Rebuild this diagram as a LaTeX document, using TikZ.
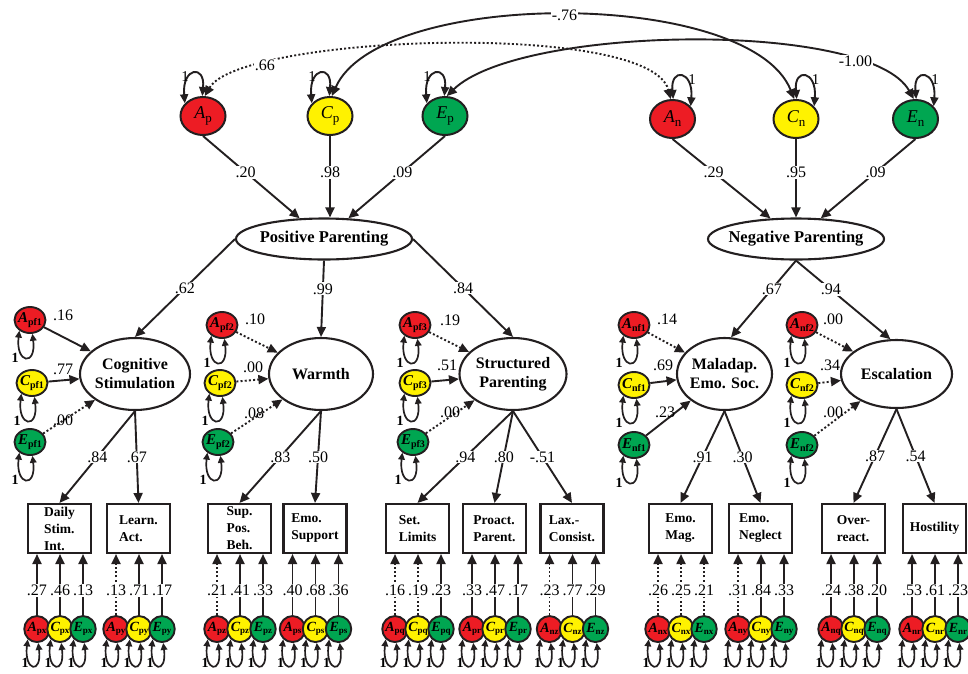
\documentclass[tikz,border=0pt]{standalone}
\usepackage{fontspec}
\setmainfont{Liberation Serif}
\usetikzlibrary{shapes.geometric,arrows.meta,calc}
\definecolor{aceR}{RGB}{237,28,36}
\definecolor{aceY}{RGB}{255,242,0}
\definecolor{aceG}{RGB}{0,166,81}
\definecolor{ink}{RGB}{35,31,32}
\newcommand{\fs}[2]{\fontsize{#1}{#2}\selectfont}
\newcommand{\topl}[2]{{\itshape #1}\raisebox{-4pt}{\fs{13}{13}#2}}
\newcommand{\midl}[2]{{\bfseries\itshape #1}\raisebox{-3pt}{\fs{10}{10}\bfseries #2}}
\newcommand{\botl}[2]{{\bfseries\itshape #1}\raisebox{-2.5pt}{\fs{9}{9}\bfseries #2}}
\begin{document}
\begin{tikzpicture}[x=1pt,y=-1pt,
  ln/.style={line width=1.9pt, draw=ink},
  arr/.style={ln, -{Triangle[length=10pt,width=9pt]}},
  darr/.style={ln, {Triangle[length=10pt,width=9pt]}-{Triangle[length=10pt,width=9pt]}},
  toploop/.style={ln, {Triangle[length=9pt,width=8pt]}-{Triangle[length=9pt,width=8pt]}},
  midloop/.style={line width=1.7pt, draw=ink, {Triangle[length=7pt,width=6.5pt]}-{Triangle[length=7pt,width=6.5pt]}},
  dl/.style={dash pattern=on 2pt off 2.2pt},
  sl/.style={solid},
  topace/.style={ellipse, draw=ink, line width=2pt, minimum width=45pt, minimum height=38pt, inner sep=0pt, font=\fs{18}{18}},
  midace/.style={ellipse, draw=ink, line width=1.9pt, minimum width=31pt, minimum height=26pt, inner xsep=-4pt, inner ysep=0pt, font=\fs{15}{15}},
  botace/.style={ellipse, draw=ink, line width=1.9pt, minimum width=25.5pt, minimum height=26pt, inner xsep=-4pt, inner ysep=0pt, font=\fs{14}{14}},
  fac/.style={ellipse, draw=ink, fill=white, line width=2.1pt, inner xsep=-15pt, inner ysep=0pt, align=center, font=\bfseries\fs{16}{19}},
  ind/.style={rectangle, draw=ink, line width=2.1pt, minimum width=63pt, minimum height=49pt, inner sep=0pt, align=left, font=\bfseries\fs{13.5}{17}},
  lbl/.style={fill=white, inner sep=1pt, font=\fs{16}{16}},
  plain/.style={inner sep=0pt, font=\fs{16}{16}},
  one/.style={inner sep=0pt, font=\fs{15}{15}},
  oneb/.style={inner sep=0pt, font=\bfseries\fs{14}{14}}]
\useasboundingbox (0,0) rectangle (968,673);
\fill[white] (0,0) rectangle (968,673);

% top ACE
\node[topace, fill=aceR] (Ap) at (203,116) {\topl{A}{p}};
\node[topace, fill=aceY] (Cp) at (330,116) {\topl{C}{p}};
\node[topace, fill=aceG] (Ep) at (445,116) {\topl{E}{p}};
\node[topace, fill=aceR] (An) at (672.5,119) {\topl{A}{n}};
\node[topace, fill=aceY] (Cn) at (796,119) {\topl{C}{n}};
\node[topace, fill=aceG] (En) at (915.5,119) {\topl{E}{n}};

% second-order factors
\node[fac, minimum width=176pt, minimum height=41pt, font=\bfseries\fs{16.5}{19}] (PP) at (324,239) {Positive Parenting};
\node[fac, minimum width=176pt, minimum height=41pt, font=\bfseries\fs{16.5}{19}] (NP) at (796,239) {Negative Parenting};

% first-order factors
\node[fac, minimum width=110pt, minimum height=72pt] (CS) at (135,374) {Cognitive\\Stimulation};
\node[fac, minimum width=104pt, minimum height=72pt] (W) at (321,374) {Warmth};
\node[fac, minimum width=107pt, minimum height=72pt] (SP) at (513,374) {Structured\\Parenting};
\node[fac, minimum width=95pt, minimum height=72pt] (MES) at (724.5,374) {Maladap.\\Emo. Soc.};
\node[fac, minimum width=111pt, minimum height=68pt] (ESC) at (896.5,374) {Escalation};

% middle ACE
\node[midace, fill=aceR] (Apf1) at (30,320) {\midl{A}{pf1}};
\node[midace, fill=aceY] (Cpf1) at (32,383) {\midl{C}{pf1}};
\node[midace, fill=aceG] (Epf1) at (30,442) {\midl{E}{pf1}};
\node[midace, fill=aceR] (Apf2) at (222,325) {\midl{A}{pf2}};
\node[midace, fill=aceY] (Cpf2) at (220,383) {\midl{C}{pf2}};
\node[midace, fill=aceG] (Epf2) at (218,442) {\midl{E}{pf2}};
\node[midace, fill=aceR] (Apf3) at (415,325) {\midl{A}{pf3}};
\node[midace, fill=aceY] (Cpf3) at (415,383) {\midl{C}{pf3}};
\node[midace, fill=aceG] (Epf3) at (413,442) {\midl{E}{pf3}};
\node[midace, fill=aceR] (Anf1) at (634,325) {\midl{A}{nf1}};
\node[midace, fill=aceY] (Cnf1) at (634,385) {\midl{C}{nf1}};
\node[midace, fill=aceG] (Enf1) at (634,445) {\midl{E}{nf1}};
\node[midace, fill=aceR] (Anf2) at (802,325) {\midl{A}{nf2}};
\node[midace, fill=aceY] (Cnf2) at (802,385) {\midl{C}{nf2}};
\node[midace, fill=aceG] (Enf2) at (802,445) {\midl{E}{nf2}};

% indicators
\node[ind] (b1) at (59.5,528.5) {Daily\\Stim.\\Int.};
\node[ind] (b2) at (138.5,528.5) {Learn.\\Act.};
\node[ind] (b3) at (239.5,528.5) {Sup.\\Pos.\\Beh.};
\node[ind] (b4) at (315,528.5) {Emo.\\Support};
\node[ind] (b5) at (417.5,528.5) {Set.\\Limits};
\node[ind] (b6) at (494.5,528.5) {Proact.\\Parent.};
\node[ind] (b7) at (572,528.5) {Lax.-\\Consist.};
\node[ind] (b8) at (680.5,528.5) {Emo.\\Mag.};
\node[ind] (b9) at (760.5,528.5) {Emo.\\Neglect};
\node[ind] (b10) at (853.5,528.5) {Over-\\react.};
\node[ind] (b11) at (934.5,528.5) {Hostility};

% top loops
\foreach \n in {Ap,Cp,Ep} {
  \draw[toploop] (\n.145) .. controls +(-3,-36) and +(3,-32) .. (\n.92);
  \path (\n) ++(-18,-39) node[one] {1};
}
\foreach \n in {An,Cn,En} {
  \draw[toploop] (\n.88) .. controls +(-3,-32) and +(3,-36) .. (\n.35);
  \path (\n) ++(19.5,-39) node[one] {1};
}

% correlations
\draw[darr,dl] (Ap.85) .. controls (240,35) and (650,20) .. (An.95) node[lbl,pos=0.2] {.66};
\draw[darr] (Cp.85) .. controls (380,-12) and (750,-12) .. (Cn.95) node[lbl,pos=0.5] {-.76};
\draw[darr] (Ep.85) .. controls (520,25) and (870,20) .. (En.95) node[lbl,pos=0.8] {-1.00};

% ACE -> second order
\draw[arr] (Ap.south) -- (PP) node[lbl,pos=0.44] {.20};
\draw[arr] (Cp.south) -- (Cp.south |- PP.north) node[lbl,pos=0.45] {.98};
\draw[arr] (Ep.south) -- (PP) node[lbl,pos=0.44] {.09};
\draw[arr] (An.south) -- (NP) node[lbl,pos=0.42] {.29};
\draw[arr] (Cn.south) -- (NP.north) node[lbl,pos=0.43] {.95};
\draw[arr] (En.south) -- (NP) node[lbl,pos=0.42] {.09};

% second -> first order
\draw[arr] (PP.west) -- (CS.north) node[lbl,pos=0.5] {.62};
\draw[arr] (PP.south) -- (W.north) node[lbl,pos=0.37] {.99};
\draw[arr] (PP.east) -- (SP.north) node[lbl,pos=0.5] {.84};
\draw[arr] (NP.south) -- (MES.80) node[lbl,pos=0.37] {.67};
\draw[arr] (NP.south) -- (ESC.100) node[lbl,pos=0.37] {.94};

% first order -> indicators
\draw[arr] (CS.south) -- (b1.north) node[lbl,pos=0.5] {.84};
\draw[arr] (CS.south) -- (b2.north) node[lbl,pos=0.5] {.67};
\draw[arr] (W.south) -- (b3.north) node[lbl,pos=0.5] {.83};
\draw[arr] (W.south) -- (b4.north) node[lbl,pos=0.5] {.50};
\draw[arr] (SP.south) -- (b5.north) node[lbl,pos=0.5] {.94};
\draw[arr] (SP.south) -- (b6.north) node[lbl,pos=0.5] {.80};
\draw[arr] (SP.south) -- (b7.north) node[lbl,pos=0.5] {-.51};
\draw[arr] (MES.south) -- (b8.north) node[lbl,pos=0.5] {.91};
\draw[arr] (MES.south) -- (b9.north) node[lbl,pos=0.5] {.30};
\draw[arr] (ESC.south) -- (b10.north) node[lbl,pos=0.5] {.87};
\draw[arr] (ESC.south) -- (b11.north) node[lbl,pos=0.5] {.54};

% middle ACE -> first order
\draw[arr] (Apf1) -- (CS);
\draw[arr] (Cpf1) -- (CS);
\draw[arr,dl] (Epf1) -- (CS);
\draw[arr,dl] (Apf2) -- (W);
\draw[arr,dl] (Cpf2) -- (W);
\draw[arr,dl] (Epf2) -- (W);
\draw[arr,dl] (Apf3) -- (SP);
\draw[arr] (Cpf3) -- (SP);
\draw[arr,dl] (Epf3) -- (SP);
\draw[arr,dl] (Anf1) -- (MES);
\draw[arr] (Cnf1) -- (MES);
\draw[arr] (Enf1) -- (MES);
\draw[arr,dl] (Anf2) -- (ESC);
\draw[arr,dl] (Cnf2) -- (ESC);
\draw[arr,dl] (Enf2) -- (ESC);

\node[plain] at (63,315) {.16};
\node[plain] at (63,369) {.77};
\node[plain] at (63,420) {.00};
\node[plain] at (255,319) {.10};
\node[plain] at (253,367) {.00};
\node[plain] at (254,413) {.08};
\node[plain] at (450,320) {.19};
\node[plain] at (447,365) {.51};
\node[plain] at (450,412) {.00};
\node[plain] at (667,319) {.14};
\node[plain] at (663,365) {.69};
\node[plain] at (665,412) {.23};
\node[plain] at (833,319) {.00};
\node[plain] at (830,365) {.34};
\node[plain] at (833,412) {.00};

% middle loops
\foreach \n in {Apf1,Cpf1,Epf1,Apf2,Cpf2,Epf2,Apf3,Cpf3,Epf3,Anf1,Cnf1,Enf1,Anf2,Cnf2,Enf2} {
  \draw[midloop] (\n.225) .. controls +(-4,33) and +(4,33) .. (\n.280);
  \path (\n) ++(-15,38) node[oneb] {1};
}

% bottom ACE
\foreach \b/\s/\la/\lc/\le/\sa/\sc/\se in {
  b1/px/.27/.46/.13/sl/sl/sl,
  b2/py/.13/.71/.17/dl/sl/sl,
  b3/pz/.21/.41/.33/dl/sl/sl,
  b4/ps/.40/.68/.36/sl/sl/sl,
  b5/pq/.16/.19/.23/dl/dl/sl,
  b6/pr/.33/.47/.17/sl/sl/sl,
  b7/nz/.23/.77/.29/dl/sl/sl,
  b8/nx/.26/.25/.21/dl/dl/dl,
  b9/ny/.31/.84/.33/dl/sl/sl,
  b10/nq/.24/.38/.20/sl/sl/sl,
  b11/nr/.53/.61/.23/sl/sl/sl} {
  \path (\b.south) ++(-22.5,75) node[botace,fill=aceR] (A\s) {\botl{A}{\s}};
  \path (\b.south) ++(0.5,75) node[botace,fill=aceY] (C\s) {\botl{C}{\s}};
  \path (\b.south) ++(23.5,75) node[botace,fill=aceG] (E\s) {\botl{E}{\s}};
  \foreach \nn/\lab/\sty in {A\s/\la/\sa, C\s/\lc/\sc, E\s/\le/\se} {
    \draw[arr,\sty] (\nn.north) -- (\nn.north |- \b.south) node[lbl,pos=0.4] {\lab};
    \draw[midloop] (\nn.228) .. controls +(-4,32) and +(4,32) .. (\nn.275);
    \path (\nn) ++(-12,34) node[oneb] {1};
  }
}
\end{tikzpicture}
\end{document}
